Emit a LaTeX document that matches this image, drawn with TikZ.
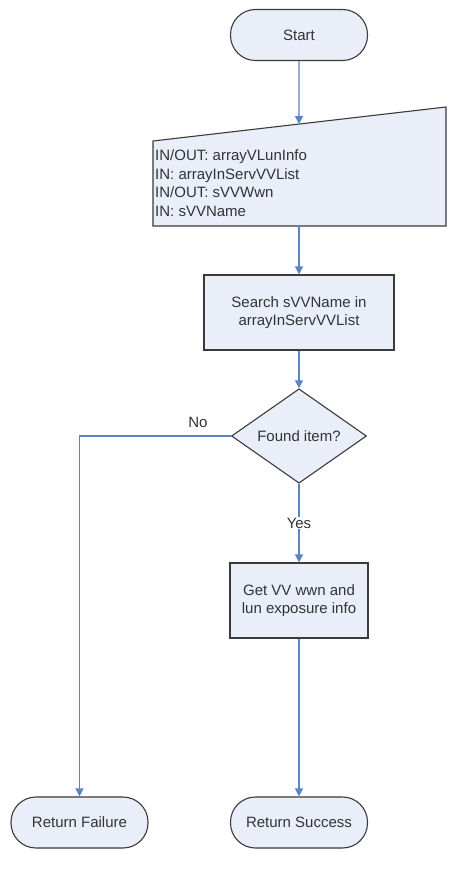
\documentclass[tikz,border=0pt]{standalone}
\usepackage{fontspec}
\setmainfont{Liberation Sans}
\usetikzlibrary{shapes.geometric,arrows.meta,calc}
\definecolor{boxfill}{HTML}{E9EEF8}
\definecolor{boxline}{HTML}{3A3A3A}
\definecolor{flowline}{HTML}{5B84C4}
\definecolor{txt}{HTML}{333333}
\tikzset{
  x=1pt, y=-1pt,
  base/.style={draw=boxline, fill=boxfill, line width=1.1pt, text=txt, font=\fontsize{15}{18.5}\selectfont, inner sep=0pt, align=center},
  term/.style={base, rectangle, rounded corners=25pt, minimum width=137pt, minimum height=51pt},
  procbox/.style={base, rectangle, minimum height=75pt},
  decision/.style={base, diamond, minimum width=135pt, minimum height=78pt},
  flow/.style={draw=flowline, line width=1.3pt, -{Triangle[length=8pt,width=8pt]}},
  flowlabel/.style={text=txt, font=\fontsize{15}{18.5}\selectfont, inner sep=1pt},
}
\begin{document}
\begin{tikzpicture}
\useasboundingbox (0,0) rectangle (463,869);
\fill[white] (0,0) rectangle (463,869);

\node[term] (start) at (299,35) {Start};

% manual input trapezoid
\coordinate (tl) at (153,141);
\coordinate (tr) at (446,107);
\coordinate (br) at (446,226);
\coordinate (bl) at (153,226);
\filldraw[draw=boxline, fill=boxfill, line width=1.1pt] (tl) -- (tr) -- (br) -- (bl) -- cycle;
\node[text=txt, font=\fontsize{15}{18.5}\selectfont, align=left, anchor=west, inner sep=0pt] (iotext) at (155,183)
  {IN/OUT: arrayVLunInfo\\IN: arrayInServVVList\\IN/OUT: sVVWwn\\IN: sVVName};
\coordinate (iotop) at ($(tl)!0.4983!(tr)$);
\coordinate (iobot) at (299,226);

\node[procbox, minimum width=190pt] (search) at (299,312.5) {Search sVVName in\\arrayInServVVList};
\node[decision] (found) at (299,436) {Found item?};
\node[procbox, minimum width=138pt] (get) at (299,600.5) {Get VV wwn and\\lun exposure info};
\node[term] (fail) at (79.5,822.5) {Return Failure};
\node[term] (succ) at (299,822.5) {Return Success};

\draw[flow] (start.south) -- (iotop);
\draw[flow] (iobot) -- (search.north);
\draw[flow] (search.south) -- (found.north);
\draw[flow] (found.west) -- (fail.north |- found.west) -- (fail.north);
\node[flowlabel] (nolab) at (198,422) {No};
\draw[flow] (found.south) -- node[flowlabel, fill=white, pos=0.5] (yeslab) {Yes} (get.north);
\draw[flow] (get.south) -- (succ.north);
\end{tikzpicture}
\end{document}
